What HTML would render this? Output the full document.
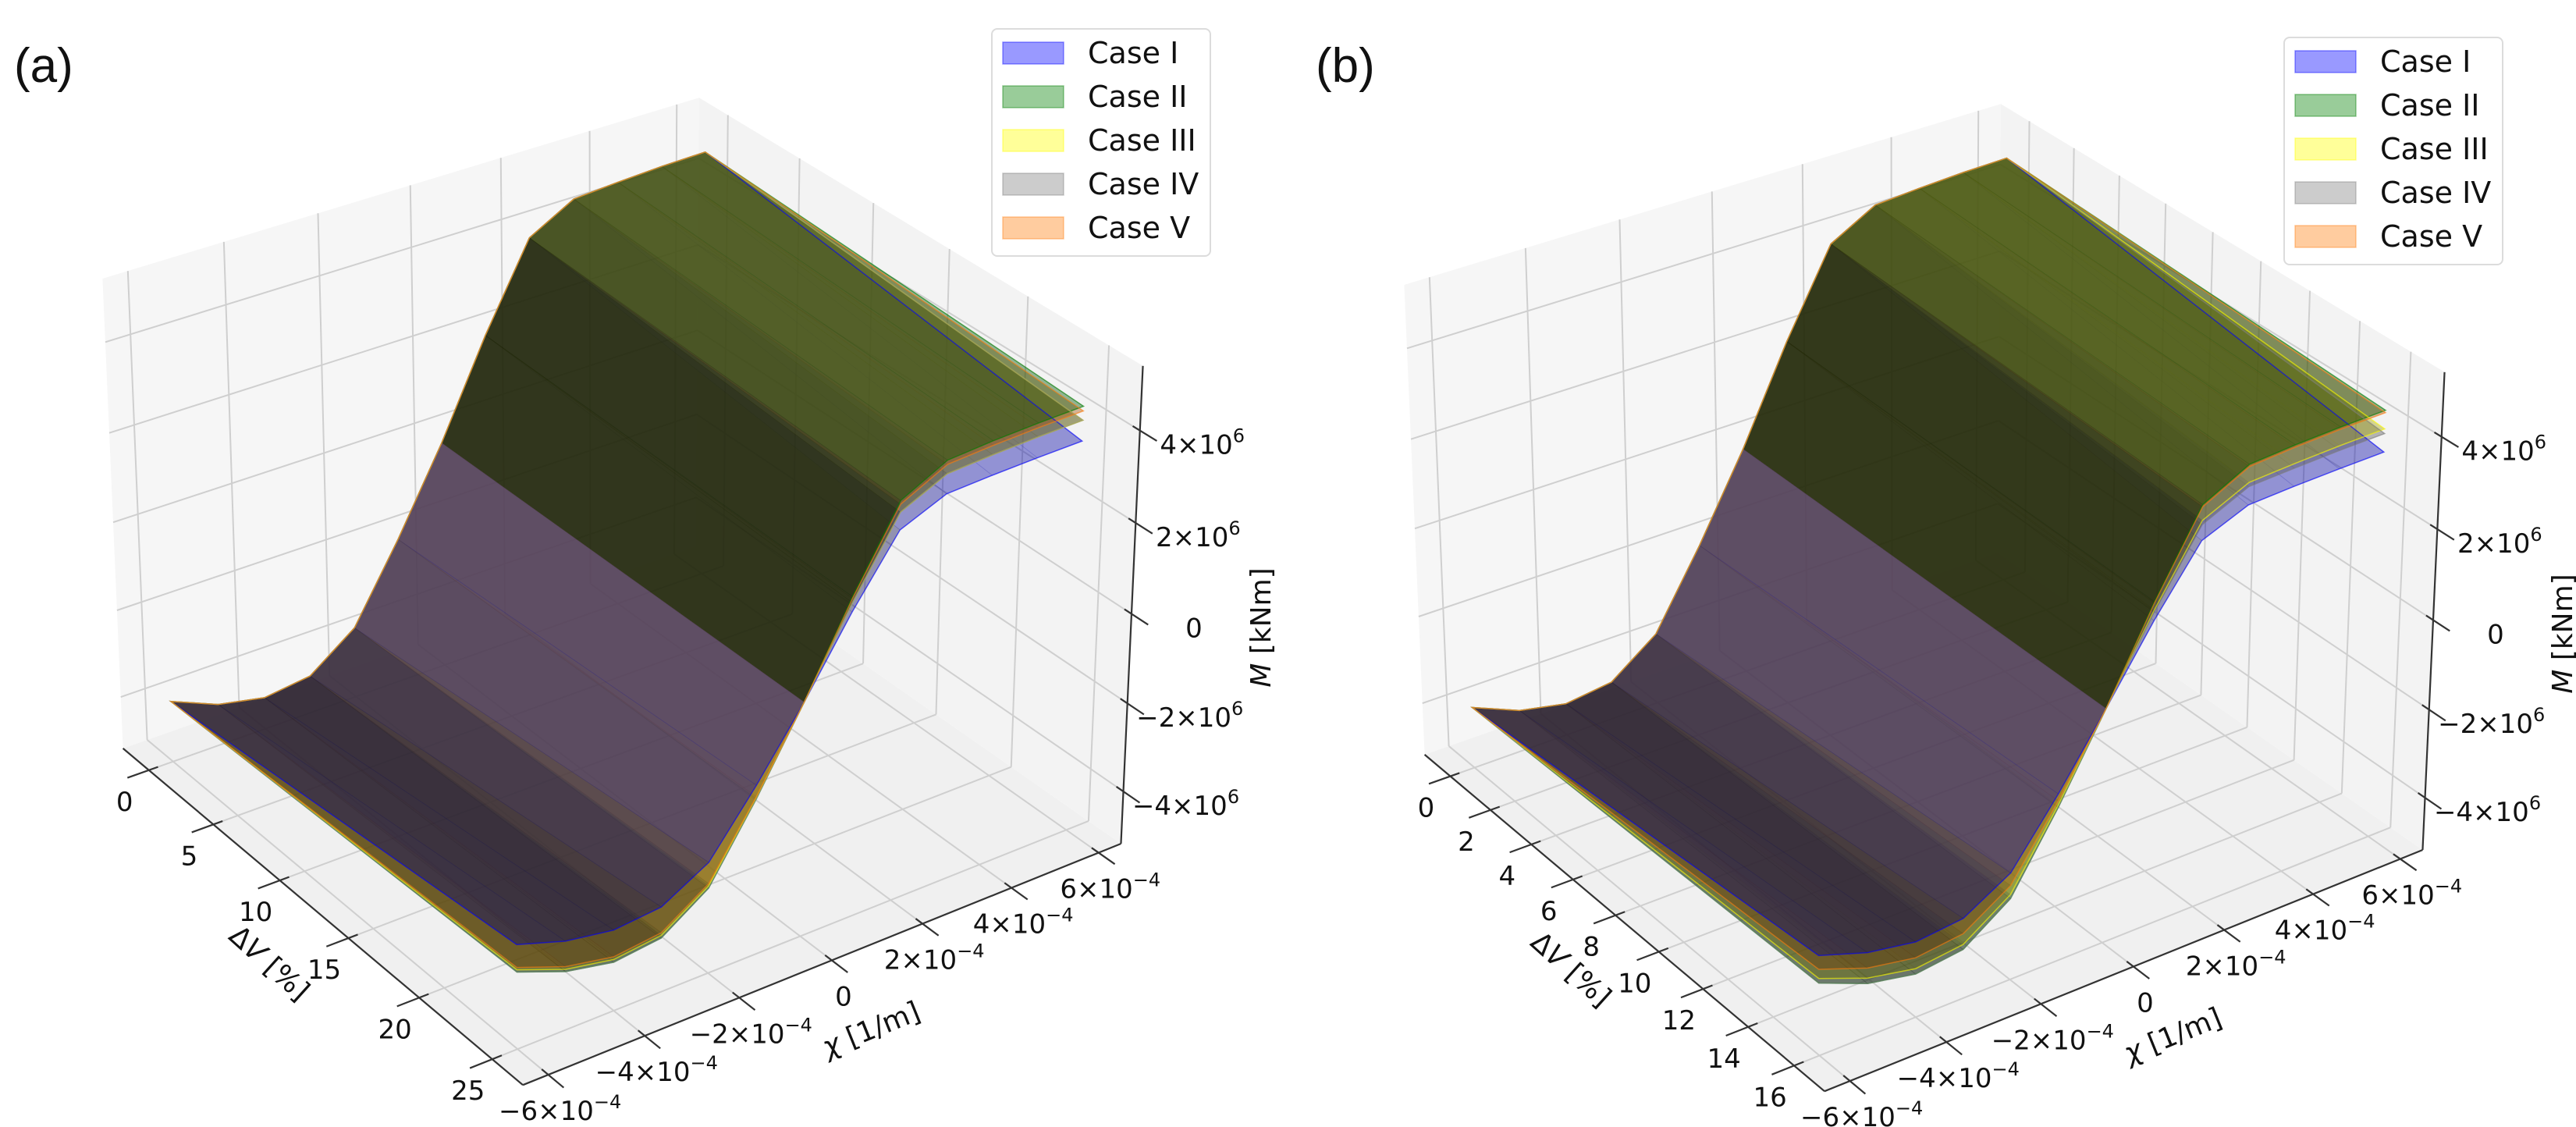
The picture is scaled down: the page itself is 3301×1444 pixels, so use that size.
<!DOCTYPE html>
<html><head><meta charset="utf-8">
<style>
html,body{margin:0;padding:0;background:#fff;}
svg{display:block;font-family:"DejaVu Sans","Liberation Sans",sans-serif;}
</style></head>
<body>
<svg id="chart" width="3301" height="1444" viewBox="0 0 3301 1444" xmlns="http://www.w3.org/2000/svg">
<rect width="3301" height="1444" fill="#fff"/>
</svg>
<script>
// ---------- data ----------
const caseNames = ["Case I","Case II","Case III","Case IV","Case V"];
const caseColors = [[0,0,255],[0,128,0],[255,255,0],[128,128,128],[255,127,14]];
const chiGrid = [-6,-5,-4,-3,-2,-1,0,1,2,3,4,5,6]; // x1e-4 1/m
const chiTicks = [-6,-4,-2,0,2,4,6];
const mTicks = [-4,-2,0,2,4]; // x1e6 kNm
// panel (a): dV rows 0 and 25 %
const aDvRows = [0,25];
const aDvTicks = [0,5,10,15,20,25];
const aI0   = [-3.8,-4.25,-4.47,-4.34,-3.58,-1.88,0,2.12,4.0,4.56,4.63,4.68,4.7];
const aI25  = [-2.9,-3.24,-3.41,-3.31,-2.73,-1.43,0,1.58,2.98,3.40,3.45,3.48,3.5];
const aII0  = [-3.8,-4.25,-4.47,-4.34,-3.58,-1.88,0,2.12,4.0,4.56,4.63,4.68,4.7];
const aII25 = [-3.5,-3.91,-4.12,-4.0,-3.3,-1.73,0,1.91,3.61,4.12,4.19,4.23,4.25];
const aIII0 = [-3.8,-4.25,-4.47,-4.34,-3.58,-1.88,0,2.12,4.0,4.56,4.63,4.68,4.7];
const aIII25= [-3.45,-3.86,-4.06,-3.94,-3.25,-1.71,0,1.78,3.36,3.83,3.89,3.93,3.95];
const aIV0  = [-3.8,-4.25,-4.47,-4.34,-3.58,-1.88,0,2.12,4.0,4.56,4.63,4.68,4.7];
const aIV25 = [-3.5,-3.91,-4.12,-4.0,-3.3,-1.73,0,1.78,3.36,3.83,3.89,3.93,3.95];
const aV0   = [-3.8,-4.25,-4.47,-4.34,-3.58,-1.88,0,2.12,4.0,4.56,4.63,4.68,4.7];
const aV25  = [-3.4,-3.8,-4.0,-3.88,-3.2,-1.68,0,1.87,3.53,4.03,4.09,4.13,4.15];
// panel (b): dV rows 0 and 16 %
const bDvRows = [0,16];
const bDvTicks = [0,2,4,6,8,10,12,14,16];
const bI0   = [-3.8,-4.25,-4.47,-4.34,-3.58,-1.88,0,2.12,4.0,4.56,4.63,4.68,4.7];
const bI16  = [-3.0,-3.35,-3.53,-3.42,-2.82,-1.48,0,1.53,2.89,3.30,3.35,3.38,3.4];
const bII0  = [-3.8,-4.25,-4.47,-4.34,-3.58,-1.88,0,2.12,4.0,4.56,4.63,4.68,4.7];
const bII16 = [-3.6,-4.03,-4.24,-4.11,-3.39,-1.78,0,1.94,3.66,4.17,4.24,4.28,4.3];
const bIII0 = [-3.8,-4.25,-4.47,-4.34,-3.58,-1.88,0,2.12,4.0,4.56,4.63,4.68,4.7];
const bIII16= [-3.5,-3.91,-4.12,-4.0,-3.3,-1.73,0,1.76,3.32,3.78,3.84,3.88,3.9];
const bIV0  = [-3.8,-4.25,-4.47,-4.34,-3.58,-1.88,0,2.12,4.0,4.56,4.63,4.68,4.7];
const bIV16 = [-3.6,-4.03,-4.24,-4.11,-3.39,-1.78,0,1.71,3.23,3.69,3.74,3.78,3.8];
const bV0   = [-3.8,-4.25,-4.47,-4.34,-3.58,-1.88,0,2.12,4.0,4.56,4.63,4.68,4.7];
const bV16  = [-3.3,-3.69,-3.88,-3.76,-3.1,-1.63,0,1.91,3.61,4.12,4.19,4.23,4.25];

// ---------- camera fit (DLT) ----------
const NS="http://www.w3.org/2000/svg";
const svg=document.getElementById('chart');
const corners=[[0,0,0,158,960],[0,0,1,132,356],[0,1,1,895,125],[1,1,0,1437,1080],[1,1,1,1465,470],[1,0,0,669,1390]];
function fitCam(pts){
  const A=[],y=[];
  pts.forEach(p=>{const [u,v,w]=p, sx=p[3]/1000, sy=p[4]/1000;
    A.push([u,v,w,1,0,0,0,0,-sx*u,-sx*v,-sx*w]); y.push(sx);
    A.push([0,0,0,0,u,v,w,1,-sy*u,-sy*v,-sy*w]); y.push(sy);});
  const n=11,N=[];
  for(let i=0;i<n;i++){N.push([]);for(let j=0;j<=n;j++){let s=0;for(let k=0;k<A.length;k++)s+=A[k][i]*(j<n?A[k][j]:y[k]);N[i].push(s+(i===j&&j<n?1e-9:0));}}
  for(let c=0;c<n;c++){let piv=c;for(let r=c+1;r<n;r++)if(Math.abs(N[r][c])>Math.abs(N[piv][c]))piv=r;
    [N[c],N[piv]]=[N[piv],N[c]];
    for(let r=0;r<n;r++){if(r===c)continue;const f=N[r][c]/N[c][c];for(let j=c;j<=n;j++)N[r][j]-=f*N[c][j];}}
  return N.map((r,i)=>r[n]/r[i]);
}
const P=fitCam(corners);
const chiMin=-6.52,chiMax=6.52,mMin=-5.2,mMax=5.38;

function el(tag,attrs,parent){const e=document.createElementNS(NS,tag);for(const k in attrs)e.setAttribute(k,attrs[k]);(parent||svg).appendChild(e);return e;}

function makePanel(cfg){
  const g=el('g',{});
  
  
  const dvMin=cfg.dvMin,dvMax=cfg.dvMax;
  function proj(dv,chi,m){
    const u=(dv-dvMin)/(dvMax-dvMin),v=(chi-chiMin)/(chiMax-chiMin),w=(m-mMin)/(mMax-mMin);
    const s=P[8]*u+P[9]*v+P[10]*w+1;
    return [1000*(P[0]*u+P[1]*v+P[2]*w+P[3])/s+cfg.ox,1000*(P[4]*u+P[5]*v+P[6]*w+P[7])/s+cfg.oy];
  }
  const pts=a=>a.map(p=>p[0].toFixed(1)+','+p[1].toFixed(1)).join(' ');
  const line=(a,b,attrs,name)=>{const l=el('line',Object.assign({x1:a[0],y1:a[1],x2:b[0],y2:b[1]},attrs),g);return l;};
  const floor=el('polygon',{points:pts([proj(dvMin,chiMin,mMin),proj(dvMax,chiMin,mMin),proj(dvMax,chiMax,mMin),proj(dvMin,chiMax,mMin)]),fill:'#f0f0f0'},g);
  
  const lw=el('polygon',{points:pts([proj(dvMin,chiMin,mMin),proj(dvMin,chiMax,mMin),proj(dvMin,chiMax,mMax),proj(dvMin,chiMin,mMax)]),fill:'#f6f6f6'},g);
  
  const rw=el('polygon',{points:pts([proj(dvMin,chiMax,mMin),proj(dvMax,chiMax,mMin),proj(dvMax,chiMax,mMax),proj(dvMin,chiMax,mMax)]),fill:'#f3f3f3'},g);
  
  const ga={stroke:'#cfcfcf','stroke-width':2};
  cfg.dvTicks.forEach(t=>{line(proj(t,chiMin,mMin),proj(t,chiMax,mMin),ga,'grid-dv');line(proj(t,chiMax,mMin),proj(t,chiMax,mMax),ga,'grid-dv-wall');});
  chiTicks.forEach(t=>{line(proj(dvMin,t,mMin),proj(dvMax,t,mMin),ga,'grid-chi');line(proj(dvMin,t,mMin),proj(dvMin,t,mMax),ga,'grid-chi-wall');});
  mTicks.forEach(t=>{line(proj(dvMin,chiMin,t),proj(dvMin,chiMax,t),ga,'grid-m-left');line(proj(dvMin,chiMax,t),proj(dvMax,chiMax,t),ga,'grid-m-right');});
  const rows=cfg.rows, dvs=cfg.dvRows;
  const nC=chiGrid.length;
  for(let i=nC-2;i>=0;i--){
    const order=rows.map((r,ci)=>({ci,m:(r[0][i]+r[0][i+1]+r[1][i]+r[1][i+1])/4})).sort((a,b)=>a.m-b.m);
    order.forEach(o=>{
      const r=rows[o.ci];
      const cap=Math.max(Math.abs(r[1][0]),Math.abs(r[1][nC-1]));
      const t=Math.min(1,Math.abs(r[1][i+1]-r[1][i])/(0.4*cap));
      const mid=(chiGrid[i]+chiGrid[i+1])/2;
      const k=mid<0?0.35+0.35*t:0.65-0.35*t;
      const c=caseColors[o.ci].map(x=>Math.round(x*k));
      const q=el('polygon',{points:pts([proj(dvs[0],chiGrid[i],r[0][i]),proj(dvs[0],chiGrid[i+1],r[0][i+1]),proj(dvs[1],chiGrid[i+1],r[1][i+1]),proj(dvs[1],chiGrid[i],r[1][i])]),fill:`rgb(${c})`,'fill-opacity':0.4,stroke:`rgb(${c})`,'stroke-opacity':0.12,'stroke-width':0.8},g);
      
      
    });
  }
  rows.forEach((r,ci)=>{
    const a=[];
    for(let i=0;i<nC;i++)a.push(proj(dvs[0],chiGrid[i],r[0][i]));
    for(let i=nC-1;i>=0;i--)a.push(proj(dvs[1],chiGrid[i],r[1][i]));
    const o=el('polygon',{points:pts(a),fill:'none',stroke:`rgb(${caseColors[ci]})`,'stroke-opacity':0.6,'stroke-width':1.5},g);
    
    
  });
  const ax={stroke:'#333','stroke-width':2.2};
  line(proj(dvMin,chiMin,mMin),proj(dvMax,chiMin,mMin),ax,'dv-axis-line');
  line(proj(dvMax,chiMin,mMin),proj(dvMax,chiMax,mMin),ax,'chi-axis-line');
  line(proj(dvMax,chiMax,mMin),proj(dvMax,chiMax,mMax),ax,'m-axis-line');
  const cs=chiMax-chiMin, ds=dvMax-dvMin;
  const txt=(x,y,html,attrs,name)=>{const t=el('text',Object.assign({x:x,y:y,'text-anchor':'middle','font-size':34,fill:'#111'},attrs),g);t.innerHTML=html;return t;};
  const fmt=(m,e)=>m===0?'0':`${m<0?'−':''}${Math.abs(m)}×10<tspan dy="-15" font-size="24">${e}</tspan>`;
  cfg.dvTicks.forEach(t=>{
    line(proj(t,chiMin+0.015*cs,mMin),proj(t,chiMin-0.035*cs,mMin),ax,'dv-tick');
    const p=proj(t,chiMin,mMin);
    txt(p[0]-31,p[1]+52,String(t),{},'dv-tick-label');
  });
  chiTicks.forEach(t=>{
    line(proj(dvMax-0.015*ds,t,mMin),proj(dvMax+0.035*ds,t,mMin),ax,'chi-tick');
    const p=proj(dvMax,t,mMin);
    txt(p[0]+15,p[1]+58,fmt(t,'−4'),{},'chi-tick-label');
  });
  mTicks.forEach(t=>{
    line(proj(dvMax-0.015*ds,chiMax,t),proj(dvMax+0.035*ds,chiMax,t),ax,'m-tick');
    const p=proj(dvMax,chiMax,t);
    txt(p[0]+80,p[1]+30,fmt(t,'6'),{},'m-tick-label');
  });
  txt(cfg.ox+337,cfg.oy+1243,'Δ<tspan font-style="italic">V</tspan> [%]',{transform:`rotate(42 ${cfg.ox+337} ${cfg.oy+1243})`,'font-size':36},'dv-axis-title');
  txt(cfg.ox+1121,cfg.oy+1330,'<tspan font-style="italic">χ</tspan> [1/m]',{transform:`rotate(-22 ${cfg.ox+1121} ${cfg.oy+1330})`,'font-size':36},'chi-axis-title');
  txt(cfg.ox+1628,cfg.oy+804,'<tspan font-style="italic">M</tspan> [kNm]',{transform:`rotate(-90 ${cfg.ox+1628} ${cfg.oy+804})`,'font-size':36},'m-axis-title');
  const pl=el('text',{x:cfg.ox+18,y:105,'font-size':62,'font-family':'"Liberation Sans",sans-serif',fill:'#111'},g);
  pl.textContent=cfg.letter;
  
  const lg=el('g',{},g);
  
  const lx=1271+cfg.lox, ly=37+cfg.loy;
  el('rect',{x:lx,y:ly,width:280,height:291,rx:7,fill:'#fff',stroke:'#dcdcdc','stroke-width':2},lg);
  caseNames.forEach((n,i)=>{
    const cy=ly+31+i*56;
    const e=el('g',{},lg);
    
    
    el('rect',{x:lx+14,y:cy-14,width:78,height:28,fill:`rgb(${caseColors[i]})`,'fill-opacity':0.4,stroke:`rgb(${caseColors[i]})`,'stroke-opacity':0.4,'stroke-width':1.5},e);
    const t=el('text',{x:lx+123,y:cy+13,'font-size':38,fill:'#111'},e);t.textContent=n;
  });
}
makePanel({name:'panel-a',letter:'(a)',ox:0,oy:0,lox:0,loy:0,dvMin:-2.05,dvMax:27.05,dvRows:aDvRows,dvTicks:aDvTicks,
  rows:[[aI0,aI25],[aII0,aII25],[aIII0,aIII25],[aIV0,aIV25],[aV0,aV25]]});
makePanel({name:'panel-b',letter:'(b)',ox:1668,oy:8,lox:1656,loy:11,dvMin:-1.3,dvMax:17.3,dvRows:bDvRows,dvTicks:bDvTicks,
  rows:[[bI0,bI16],[bII0,bII16],[bIII0,bIII16],[bIV0,bIV16],[bV0,bV16]]});
</script>
</body></html>
